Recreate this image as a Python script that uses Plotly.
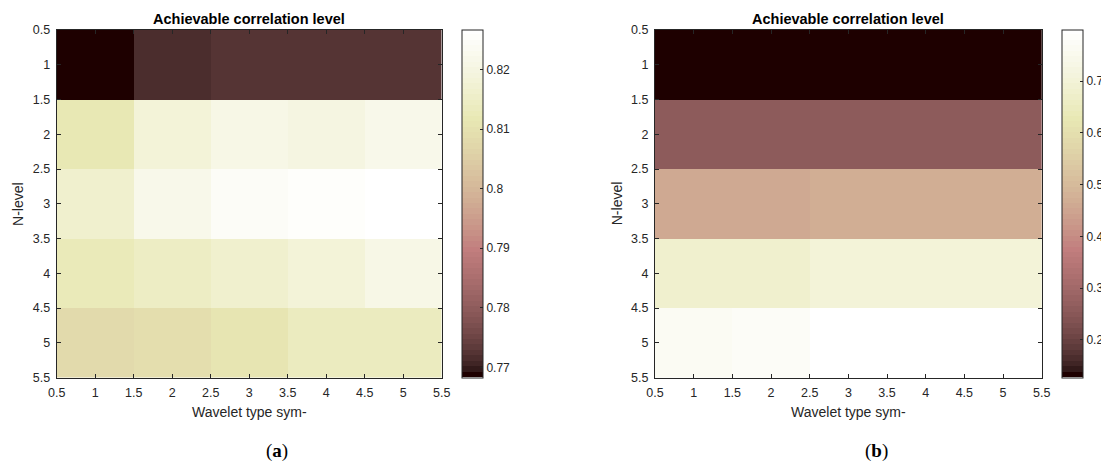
import numpy as np
import plotly.graph_objects as go

# ---------------- data ----------------
wavelet_types = [1, 2, 3, 4, 5]          # sym-1 .. sym-5
n_levels = [1, 2, 3, 4, 5]

corr_a_n1 = [0.7683, 0.7715, 0.7724, 0.7724, 0.7723]
corr_a_n2 = [0.8115, 0.8177, 0.8206, 0.8200, 0.8217]
corr_a_n3 = [0.8160, 0.8213, 0.8243, 0.8251, 0.8267]
corr_a_n4 = [0.8121, 0.8141, 0.8158, 0.8181, 0.8211]
corr_a_n5 = [0.8078, 0.8086, 0.8110, 0.8137, 0.8139]

corr_b_n1 = [0.127, 0.127, 0.127, 0.127, 0.127]
corr_b_n2 = [0.2576, 0.2576, 0.2576, 0.2576, 0.2576]
corr_b_n3 = [0.462, 0.462, 0.465, 0.465, 0.465]
corr_b_n4 = [0.675, 0.675, 0.696, 0.696, 0.696]
corr_b_n5 = [0.766, 0.773, 0.800, 0.800, 0.800]

axis_ticks = [0.5, 1, 1.5, 2, 2.5, 3, 3.5, 4, 4.5, 5, 5.5]
axis_ticktext = ["0.5", "1", "1.5", "2", "2.5", "3", "3.5", "4", "4.5", "5", "5.5"]
cbar_a_ticks = [0.77, 0.78, 0.79, 0.80, 0.81, 0.82]
cbar_a_text = ["0.77", "0.78", "0.79", "0.8", "0.81", "0.82"]
cbar_b_ticks = [0.2, 0.3, 0.4, 0.5, 0.6, 0.7]
cbar_b_text = ["0.2", "0.3", "0.4", "0.5", "0.6", "0.7"]

z_a = [corr_a_n1, corr_a_n2, corr_a_n3, corr_a_n4, corr_a_n5]
z_b = [corr_b_n1, corr_b_n2, corr_b_n3, corr_b_n4, corr_b_n5]

# ---------------- MATLAB "pink" colormap (64 steps) ----------------
m = 64
gray = np.linspace(0, 1, m)
n = int(3 / 8 * m)
r = np.concatenate([np.arange(1, n + 1) / n, np.ones(m - n)])
g = np.concatenate([np.zeros(n), np.arange(1, n + 1) / n, np.ones(m - 2 * n)])
b = np.concatenate([np.zeros(2 * n), np.arange(1, m - 2 * n + 1) / (m - 2 * n)])
hot = np.stack([r, g, b], axis=1)
pink = np.sqrt((2 * gray[:, None] + hot) / 3)
colorscale = []
for i in range(m):
    c = "rgb(%d,%d,%d)" % tuple(np.round(pink[i] * 255).astype(int))
    colorscale.append([i / m, c])
    colorscale.append([(i + 1) / m, c])

# ---------------- layout geometry ----------------
W, H = 1101, 463
def px_x(x):
    return x / W
def px_y(y):
    return 1 - y / H

top, bot = 30, 377.5
xa = (56.7, 441.7)
xb = (655.0, 1041.7)
cba_left = 461.7
cbb_left = 1061.7
cb_thick = 21

ink = "#262626"
font_family = "Liberation Sans, Arial, Helvetica, sans-serif"

fig = go.Figure()

for z, xaxis, yaxis, cbl, tv, tt in [
    (z_a, "x", "y", cba_left, cbar_a_ticks, cbar_a_text),
    (z_b, "x2", "y2", cbb_left, cbar_b_ticks, cbar_b_text),
]:
    flat = [v for row in z for v in row]
    fig.add_trace(go.Heatmap(
        x=wavelet_types, y=n_levels, z=z,
        xaxis=xaxis, yaxis=yaxis,
        zmin=min(flat), zmax=max(flat),
        colorscale=colorscale,
        hoverinfo="skip",
        colorbar=dict(
            x=px_x(cbl), xanchor="left", xpad=0, ypad=0,
            y=px_y(bot), yanchor="bottom",
            len=(bot - top) / H, lenmode="fraction",
            thickness=cb_thick, thicknessmode="pixels",
            outlinewidth=1, outlinecolor=ink,
            tickmode="array", tickvals=tv, ticktext=tt,
            ticks="inside", ticklen=3, tickcolor=ink, tickwidth=1,
            tickfont=dict(family=font_family, size=12, color=ink),
        ),
    ))

axis_common = dict(
    tickmode="array", tickvals=axis_ticks, ticktext=axis_ticktext,
    ticks="inside", ticklen=4, tickwidth=1, tickcolor=ink,
    showline=True, linewidth=1, linecolor=ink, mirror="ticks",
    showgrid=False, zeroline=False,
    tickfont=dict(family=font_family, size=12.5, color=ink),
)

fig.update_layout(
    width=W, height=H,
    margin=dict(l=0, r=0, t=0, b=0, autoexpand=False),
    paper_bgcolor="white", plot_bgcolor="white",
    showlegend=False,
    xaxis=dict(domain=[px_x(xa[0]), px_x(xa[1])], range=[0.5, 5.5], anchor="y",
               ticklabelstandoff=3, **axis_common),
    yaxis=dict(domain=[px_y(bot), px_y(top)], range=[5.5, 0.5], anchor="x",
               ticklabelstandoff=3, **axis_common),
    xaxis2=dict(domain=[px_x(xb[0]), px_x(xb[1])], range=[0.5, 5.5], anchor="y2",
                ticklabelstandoff=3, **axis_common),
    yaxis2=dict(domain=[px_y(bot), px_y(top)], range=[5.5, 0.5], anchor="x2",
                ticklabelstandoff=3, **axis_common),
)

annotations = []
for (x0, x1), lab in [(xa, "a"), (xb, "b")]:
    cx = (x0 + x1) / 2
    annotations.append(dict(
        x=px_x(cx), y=px_y(19), xref="paper", yref="paper",
        text="<b>Achievable correlation level</b>", showarrow=False,
        xanchor="center", yanchor="middle",
        font=dict(family=font_family, size=14.5, color="black"),
    ))
    annotations.append(dict(
        x=px_x(cx), y=px_y(412), xref="paper", yref="paper",
        text="Wavelet type sym-", showarrow=False,
        xanchor="center", yanchor="middle",
        font=dict(family=font_family, size=14, color=ink),
    ))
    annotations.append(dict(
        x=px_x(x0 - 38.5), y=px_y((top + bot) / 2), xref="paper", yref="paper",
        text="N-level", showarrow=False, textangle=-90,
        xanchor="center", yanchor="middle",
        font=dict(family=font_family, size=14, color=ink),
    ))
    annotations.append(dict(
        x=px_x(cx + 28), y=px_y(451), xref="paper", yref="paper",
        text="(<b>%s</b>)" % lab, showarrow=False,
        xanchor="center", yanchor="middle",
        font=dict(family="Liberation Serif, DejaVu Serif, serif", size=19, color="black"),
    ))
fig.update_layout(annotations=annotations)

fig.write_html("out.html")
